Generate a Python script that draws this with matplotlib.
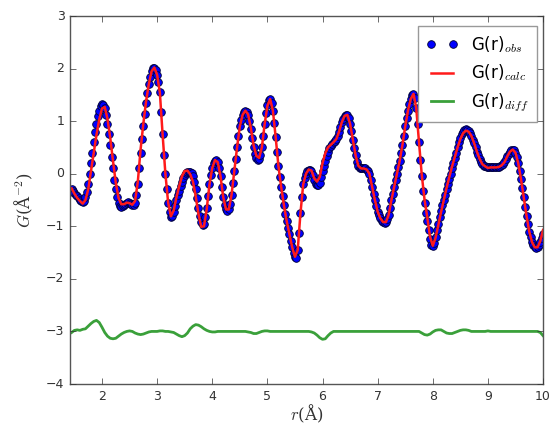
import numpy as np
import matplotlib
matplotlib.use("Agg")
import matplotlib.pyplot as plt

# r grid (Angstrom): obs every 0.025, calc/diff every 0.05
r_start, r_stop = 1.45, 10.0
obs_step, fit_step = 0.025, 0.05

# observed G(r), one row per 0.5 A
g_obs = [
    -0.30, -0.33, -0.36, -0.40, -0.43, -0.47, -0.50, -0.52, -0.53, -0.51, -0.45, -0.34, -0.20, 0.00, 0.20, 0.40, 0.60, 0.79, 0.95, 1.09,
    1.20, 1.28, 1.32, 1.31, 1.25, 1.12, 0.95, 0.76, 0.55, 0.32, 0.10, -0.11, -0.30, -0.45, -0.55, -0.61, -0.63, -0.62, -0.60, -0.57,
    -0.55, -0.54, -0.55, -0.57, -0.59, -0.59, -0.55, -0.41, -0.20, 0.10, 0.40, 0.66, 0.90, 1.13, 1.35, 1.54, 1.70, 1.84, 1.95, 2.01,
    2.02, 1.98, 1.88, 1.74, 1.55, 1.17, 0.75, 0.36, 0.00, -0.30, -0.55, -0.72, -0.82, -0.80, -0.72, -0.61, -0.50, -0.41, -0.32, -0.23,
    -0.15, -0.08, -0.03, 0.01, 0.03, 0.04, 0.04, 0.01, -0.05, -0.15, -0.30, -0.47, -0.65, -0.81, -0.92, -0.97, -0.95, -0.83, -0.65, -0.42,
    -0.20, -0.03, 0.10, 0.20, 0.25, 0.26, 0.22, 0.10, -0.05, -0.25, -0.45, -0.60, -0.68, -0.70, -0.68, -0.57, -0.40, -0.18, 0.05, 0.28,
    0.50, 0.71, 0.90, 1.03, 1.12, 1.18, 1.20, 1.18, 1.12, 1.00, 0.85, 0.67, 0.50, 0.37, 0.30, 0.27, 0.28, 0.36, 0.50, 0.72,
    0.95, 1.15, 1.30, 1.40, 1.42, 1.35, 1.20, 0.97, 0.70, 0.42, 0.15, -0.06, -0.25, -0.43, -0.60, -0.76, -0.90, -1.03, -1.15, -1.28,
    -1.40, -1.50, -1.58, -1.60, -1.45, -1.12, -0.75, -0.45, -0.20, -0.08, 0.00, 0.05, 0.08, 0.08, 0.05, -0.03, -0.12, -0.19, -0.22, -0.22,
    -0.18, -0.07, 0.05, 0.15, 0.25, 0.34, 0.42, 0.48, 0.52, 0.56, 0.60, 0.62, 0.66, 0.72, 0.80, 0.89, 0.98, 1.05, 1.10, 1.12,
    1.12, 1.06, 0.95, 0.81, 0.65, 0.49, 0.35, 0.23, 0.15, 0.11, 0.10, 0.10, 0.10, 0.10, 0.08, 0.05, 0.00, -0.11, -0.25, -0.38,
    -0.50, -0.62, -0.72, -0.79, -0.85, -0.89, -0.92, -0.93, -0.92, -0.86, -0.78, -0.65, -0.50, -0.38, -0.25, -0.12, 0.00, 0.12, 0.25, 0.40,
    0.55, 0.72, 0.90, 1.06, 1.20, 1.32, 1.42, 1.49, 1.52, 1.44, 1.25, 0.95, 0.60, 0.27, -0.05, -0.32, -0.55, -0.74, -0.90, -1.08,
    -1.25, -1.35, -1.38, -1.31, -1.20, -1.08, -0.95, -0.82, -0.70, -0.60, -0.50, -0.40, -0.30, -0.20, -0.10, 0.00, 0.10, 0.20, 0.30, 0.40,
    0.50, 0.60, 0.68, 0.75, 0.80, 0.84, 0.85, 0.84, 0.82, 0.78, 0.72, 0.65, 0.58, 0.50, 0.42, 0.35, 0.28, 0.22, 0.18, 0.15,
    0.14, 0.13, 0.12, 0.12, 0.12, 0.12, 0.12, 0.12, 0.12, 0.12, 0.13, 0.14, 0.16, 0.19, 0.22, 0.28, 0.33, 0.38, 0.42, 0.45,
    0.46, 0.45, 0.40, 0.31, 0.20, 0.05, -0.10, -0.28, -0.45, -0.63, -0.80, -0.96, -1.10, -1.21, -1.30, -1.36, -1.40, -1.41, -1.40, -1.36,
    -1.30, -1.23, -1.15,
]

# difference obs - calc, every 0.05 A
g_diff = [
    -0.02, 0.02, 0.03, 0.02, 0.04, 0.05, 0.10, 0.15, 0.19, 0.21,
    0.17, 0.08, -0.02, -0.09, -0.13, -0.14, -0.13, -0.09, -0.05, -0.02,
    0.00, 0.01, 0.00, -0.03, -0.05, -0.06, -0.05, -0.03, -0.01, 0.00,
    0.00, 0.00, 0.01, 0.01, 0.00, 0.00, -0.01, -0.02, -0.05, -0.08,
    -0.10, -0.08, -0.03, 0.05, 0.10, 0.13, 0.12, 0.09, 0.05, 0.02,
    0.00, -0.01, -0.01, 0.00, 0.00, 0.00, 0.00, 0.00, 0.00, 0.00,
    0.00, 0.00, 0.00, 0.00, -0.01, -0.02, -0.04, -0.04, -0.02, 0.00,
    0.01, 0.01, 0.00, 0.00, 0.00, 0.00, 0.00, 0.00, 0.00, 0.00,
    0.00, 0.00, 0.00, 0.00, 0.00, 0.00, 0.00, -0.01, -0.03, -0.07,
    -0.12, -0.15, -0.14, -0.08, -0.03, 0.00, 0.00, 0.00, 0.00, 0.00,
    0.00, 0.00, 0.00, 0.00, 0.00, 0.00, 0.00, 0.00, 0.00, 0.00,
    0.00, 0.00, 0.00, 0.00, 0.00, 0.00, 0.00, 0.00, 0.00, 0.00,
    0.00, 0.00, 0.00, 0.00, 0.00, 0.00, 0.00, -0.03, -0.06, -0.07,
    -0.05, -0.01, 0.02, 0.03, 0.03, 0.00, -0.03, -0.04, -0.04, -0.02,
    0.00, 0.02, 0.03, 0.03, 0.02, 0.00, 0.00, 0.00, 0.00, 0.00,
    0.00, 0.01, 0.00, 0.00, 0.00, 0.00, 0.00, 0.00, 0.00, 0.00,
    0.00, 0.00, 0.00, 0.00, 0.00, 0.00, 0.00, 0.00, 0.00, 0.00,
    -0.02, -0.08,
]
diff_offset = -3.0

r_obs = np.round(np.arange(r_start, r_stop + obs_step / 2, obs_step), 3)
r_fit = np.round(np.arange(r_start, r_stop + fit_step / 2, fit_step), 3)
g_obs = np.array(g_obs)
g_diff = np.array(g_diff)
assert len(g_obs) == len(r_obs) and len(g_diff) == len(r_fit)
g_calc = g_obs[::2] - g_diff

plt.style.use('classic')
plt.rcParams['mathtext.fontset'] = 'cm'

fig = plt.figure(figsize=(5.53, 4.28), dpi=100, facecolor='white')
ax = fig.add_axes([0.1266, 0.1028, 0.8554, 0.8598])

ax.plot(r_obs, g_obs, 'o', color='b', mec='#000033', mew=0.6, ms=5.5, label=r'G(r)$_{obs}$')
ax.plot(r_fit, g_calc, '-', color='#ff1a1a', lw=1.8, label=r'G(r)$_{calc}$')
ax.plot(r_fit, g_diff + diff_offset, '-', color='#3aa03a', lw=2, label=r'G(r)$_{diff}$')

ax.set_xlim(1.42, 10)
ax.set_ylim(-4, 3)
ax.set_xticks([2, 3, 4, 5, 6, 7, 8, 9, 10])
ax.set_yticks([-4, -3, -2, -1, 0, 1, 2, 3])
ax.tick_params(labelsize=9, colors='#333333', length=4)
for s in ax.spines.values():
    s.set_color('#555555')

ax.set_xlabel('$r$(Å)', fontsize=12, color='#333333', family='DejaVu Serif')
ax.set_ylabel('$G$(Å$^{-2}$)', fontsize=12, color='#333333', family='DejaVu Serif')
ax.xaxis.set_label_coords(0.5, -0.05)
ax.yaxis.set_label_coords(-0.075, 0.5)

leg = ax.legend(loc='upper right', bbox_to_anchor=(0.987, 0.973), borderaxespad=0,
                fontsize=12, numpoints=2, handlelength=1.9, labelspacing=0.45, borderpad=0.5)
leg.get_frame().set_edgecolor('#999999')

fig.savefig('out.png', dpi=100, facecolor='white')
